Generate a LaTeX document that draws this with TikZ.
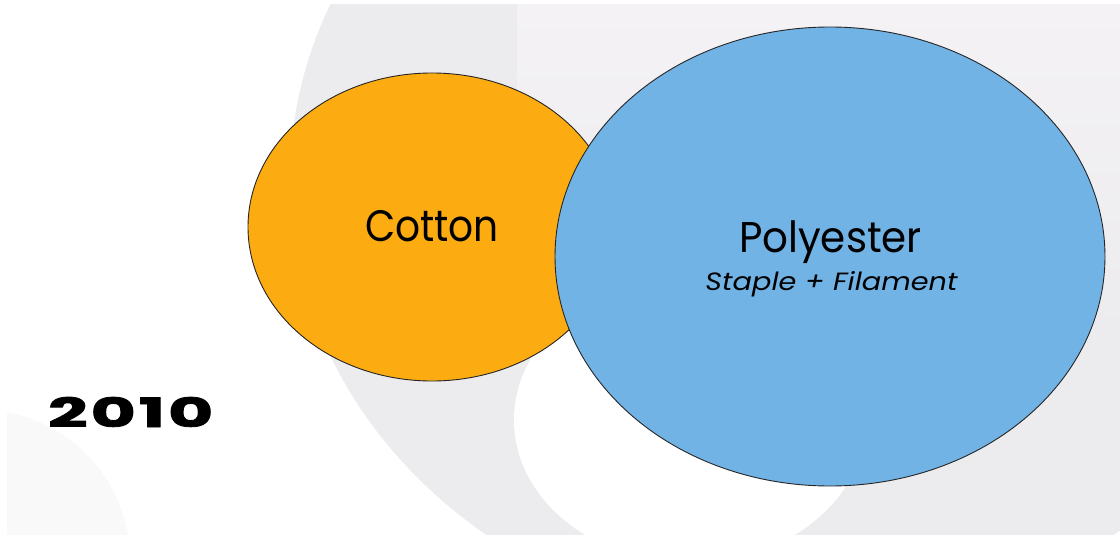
\documentclass[tikz,border=0pt]{standalone}
\usepackage{fontspec}
\setmainfont{Poppins}
\usetikzlibrary{shapes.geometric}
\definecolor{cottonorange}{HTML}{FCAC10}
\definecolor{polyblue}{HTML}{72B3E6}
\definecolor{bandgray}{HTML}{ECEBED}
\definecolor{lightbg}{HTML}{F4F2F5}
\definecolor{faintbg}{HTML}{FAF9FA}
\begin{document}
\begin{tikzpicture}[x=1pt,y=-1pt,
  bubble/.style={ellipse, draw=black!85, line width=0.9pt, inner sep=0pt},
  lbl/.style={anchor=base, inner sep=0pt, text=black}]
\useasboundingbox (0,0) rectangle (1120,535);
\fill[white] (0,0) rectangle (1120,535);
\begin{scope}
  \clip (7,5) rectangle (1120,535);
  \fill[bandgray] (800,180) ellipse [x radius=510, y radius=450];
  \shade[top color=lightbg, bottom color=bandgray] (517,5) rectangle (1120,340);
  \fill[white] (690,420) ellipse [x radius=176, y radius=143];
  \fill[faintbg] (-20,560) circle [radius=150];
  \draw[white, line width=1.5pt, opacity=0.8] (550,498) -- (657,435);
\end{scope}
\node[bubble, fill=cottonorange, minimum width=368, minimum height=308] (cotton) at (432,227) {};
\node[bubble, fill=polyblue, minimum width=550, minimum height=459] (polyester) at (830,256.5) {};
\node[lbl, font=\fontsize{44}{44}\selectfont] (cottontxt) at (432,241) {\scalebox{0.89}[1]{Cotton}};
\node[lbl, font=\fontsize{43}{43}\selectfont] (polytxt) at (830.5,252) {\scalebox{0.94}[1]{Polyester}};
\node[lbl, font=\fontsize{25}{25}\selectfont\itshape] (stapletxt) at (831.5,290) {\scalebox{1.15}[1]{Staple + Filament}};
\node[anchor=base west, inner sep=0pt, font=\fontsize{43}{43}\selectfont\bfseries] (year) at (48,427) {\resizebox{165pt}{30pt}{\addfontfeature{FakeBold=2}2\kern2pt 0\kern2pt 1\kern2pt 0}};
\end{tikzpicture}
\end{document}
